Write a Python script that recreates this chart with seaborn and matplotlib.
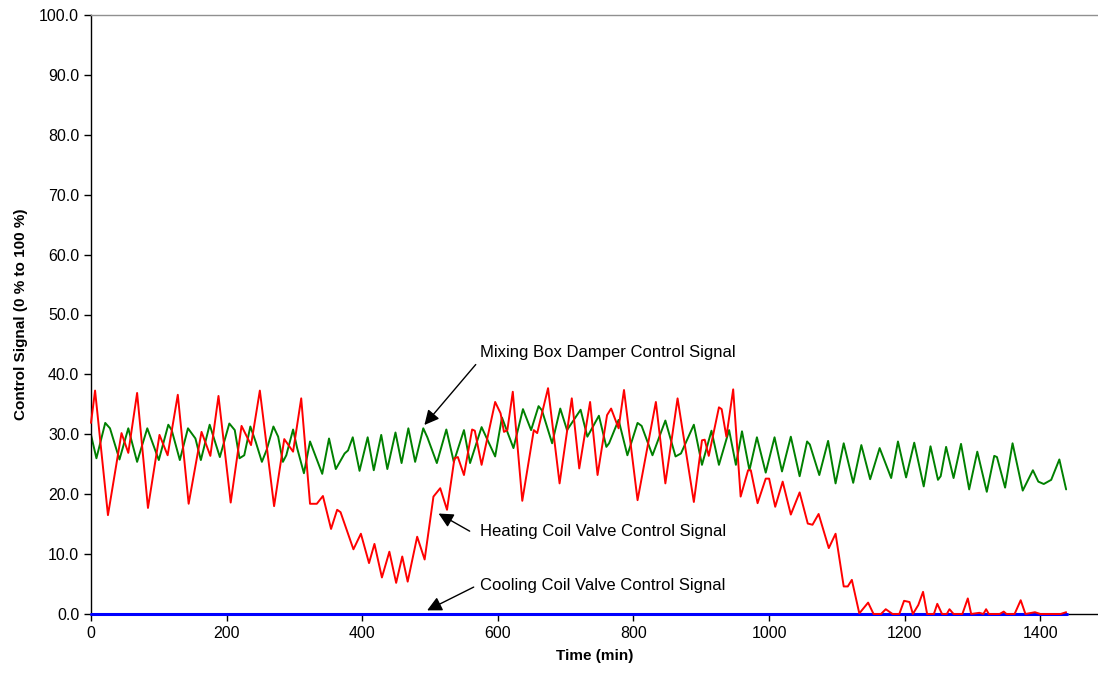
import numpy as np
import pandas as pd
import matplotlib
matplotlib.use("Agg")
import matplotlib.pyplot as plt
import seaborn as sns

sns.set_style("white")
plt.rcParams["font.family"] = ["Liberation Sans", "DejaVu Sans"]
plt.rcParams["text.color"] = "black"
plt.rcParams["axes.labelcolor"] = "black"

# heating coil valve control signal (red)
heat_t = [0, 6, 25, 45, 55, 68, 84, 101, 113, 128, 144, 163, 176, 188, 206, 222, 236,
          249, 270, 285, 298, 310, 323, 333, 342, 354, 363, 368, 387, 398, 410, 418, 429,
          440, 450, 459, 467, 481, 492, 505, 515, 525, 536, 541, 550, 562, 566, 576, 596,
          604, 609, 614, 622, 636, 653, 658, 674, 691, 709, 720, 736, 747, 761, 767, 778,
          786, 806, 833, 847, 865, 889, 901, 905, 911, 926, 930, 937, 947, 958, 969, 973,
          983, 995, 1000, 1009, 1020, 1032, 1045, 1057, 1064, 1073, 1088, 1098, 1110, 1116,
          1122, 1133, 1146, 1154, 1165, 1172, 1182, 1192, 1199, 1207, 1212, 1220, 1227,
          1233, 1243, 1248, 1255, 1262, 1266, 1272, 1285, 1293, 1298, 1310, 1316, 1320,
          1324, 1340, 1346, 1350, 1362, 1371, 1378, 1392, 1400, 1430, 1438]
heat_v = [31.9, 37.3, 16.5, 30.2, 26.9, 36.9, 17.7, 29.9, 26.5, 36.6, 18.4, 30.4, 26.4,
          36.4, 18.6, 31.4, 28.2, 37.3, 18.0, 29.2, 27.1, 36.0, 18.4, 18.4, 19.7, 14.2,
          17.4, 17.0, 10.8, 13.4, 8.5, 11.7, 6.1, 10.4, 5.2, 9.6, 5.4, 12.9, 9.1, 19.6,
          21.0, 17.4, 26.0, 26.2, 23.2, 30.8, 30.6, 24.9, 35.4, 33.5, 30.4, 30.7, 37.1,
          18.9, 30.7, 30.2, 37.7, 21.8, 36.0, 24.3, 35.4, 23.2, 33.2, 34.3, 31.0, 37.4,
          19.0, 35.4, 21.8, 36.0, 18.7, 29.0, 29.1, 26.4, 34.5, 34.2, 29.6, 37.5, 19.6,
          24.0, 24.0, 18.5, 22.6, 22.6, 17.9, 22.1, 16.6, 20.3, 15.1, 14.9, 16.7, 11.0,
          13.4, 4.6, 4.6, 5.7, 0.1, 1.9, 0.0, 0.0, 0.8, 0.0, 0.0, 2.2, 2.0, 0.0, 1.5, 3.7,
          0.0, 0.0, 1.7, 0.0, 0.0, 0.8, 0.0, 0.0, 2.6, 0.0, 0.2, 0.0, 0.8, 0.0, 0.0, 0.4,
          0.0, 0.0, 2.3, 0.0, 0.3, 0.0, 0.0, 0.3]

# mixing box damper control signal (green)
damp_t = [0, 8, 21, 28, 42, 55, 68, 83, 100, 114, 119, 131, 143, 154, 162, 175, 190, 204,
          212, 219, 226, 235, 243, 252, 259, 269, 276, 283, 288, 298, 304, 314, 323, 341,
          351, 361, 374, 379, 386, 396, 408, 417, 428, 437, 449, 458, 468, 478, 490, 496,
          510, 524, 535, 550, 559, 576, 596, 606, 623, 637, 649, 660, 665, 680, 692, 702,
          722, 732, 749, 760, 764, 778, 791, 806, 812, 828, 847, 862, 870, 889, 901, 915,
          926, 941, 951, 960, 971, 982, 995, 1008, 1019, 1032, 1045, 1056, 1060, 1074,
          1087, 1098, 1110, 1124, 1136, 1149, 1163, 1180, 1190, 1202, 1214, 1228, 1238,
          1249, 1253, 1261, 1272, 1283, 1295, 1307, 1321, 1332, 1336, 1348, 1359, 1374,
          1389, 1397, 1405, 1416, 1428, 1438]
damp_v = [29.9, 26.0, 31.9, 31.0, 25.8, 31.0, 25.4, 31.0, 25.7, 31.6, 30.7, 25.7, 31.0,
          29.3, 25.7, 31.6, 26.2, 31.8, 30.7, 26.0, 26.5, 31.3, 28.7, 25.4, 27.4, 31.3,
          29.6, 25.4, 26.5, 30.8, 27.7, 23.5, 28.8, 23.4, 29.3, 24.2, 26.8, 27.3, 29.5,
          23.9, 29.5, 24.0, 29.9, 24.2, 30.3, 25.2, 31.0, 25.4, 31.0, 29.5, 25.2, 30.8,
          25.4, 30.7, 25.2, 31.2, 26.3, 32.8, 27.7, 34.2, 30.7, 34.7, 34.0, 28.5, 34.3,
          30.7, 34.1, 29.6, 33.1, 27.9, 28.5, 32.4, 26.5, 31.9, 31.4, 26.5, 32.3, 26.3,
          26.8, 31.6, 24.9, 30.6, 24.9, 30.7, 24.9, 30.5, 24.0, 29.5, 23.6, 29.5, 23.8,
          29.6, 23.0, 28.8, 28.3, 23.2, 28.9, 21.8, 28.5, 21.9, 28.2, 22.5, 27.7, 22.7,
          28.8, 22.8, 28.6, 21.3, 28.0, 22.4, 23.0, 27.9, 22.7, 28.4, 20.8, 27.1, 20.4,
          26.4, 26.2, 21.1, 28.5, 20.6, 24.0, 22.1, 21.7, 22.4, 25.8, 20.8]

# cooling coil valve control signal (blue)
cool_t = [0, 1440]
cool_v = [0.0, 0.0]

heat = pd.DataFrame({"t": heat_t, "v": heat_v})
damp = pd.DataFrame({"t": damp_t, "v": damp_v})
cool = pd.DataFrame({"t": cool_t, "v": cool_v})

fig = plt.figure(figsize=(10.98, 6.79), dpi=100)
ax = fig.add_axes([91 / 1098, 1 - 614 / 679, 1 - 91 / 1098, (614 - 15) / 679])

sns.lineplot(data=damp, x="t", y="v", color="#008000", lw=1.4, ax=ax)
sns.lineplot(data=cool, x="t", y="v", color="#0000FF", lw=2.2, ax=ax,
             clip_on=False, zorder=5)
sns.lineplot(data=heat, x="t", y="v", color="#FF0000", lw=1.4, ax=ax,
             clip_on=False, zorder=6)

ax.set_xlim(0, 1485)
ax.set_ylim(0, 100)
ax.set_xticks(np.arange(0, 1401, 200))
ax.set_yticks(np.arange(0, 101, 10))
ax.set_yticklabels([f"{v:.1f}" for v in np.arange(0, 101, 10)])
ax.tick_params(axis="both", direction="out", length=5, width=1, labelsize=11.5,
               colors="black", left=True, bottom=True)
ax.set_xlabel("Time (min)", fontsize=11, fontweight="bold", labelpad=6)
ax.set_ylabel("Control Signal (0 % to 100 %)", fontsize=11, fontweight="bold", labelpad=8)

for side in ["left", "bottom"]:
    ax.spines[side].set_color("black")
    ax.spines[side].set_linewidth(1.0)
ax.spines["top"].set_color("#909090")
ax.spines["top"].set_linewidth(1.0)
ax.spines["right"].set_visible(False)

arrow = dict(arrowstyle="-|>", color="black", lw=1.0, mutation_scale=22)
ax.annotate("", xy=(489, 31.2), xytext=(570, 42.0), arrowprops=arrow)
ax.annotate("", xy=(509, 17.0), xytext=(562, 13.6), arrowprops=arrow)
ax.annotate("", xy=(492, 0.4), xytext=(568, 4.7), arrowprops=arrow)
for y, label in [(43.7, "Mixing Box Damper Control Signal"),
                 (13.7, "Heating Coil Valve Control Signal"),
                 (4.8, "Cooling Coil Valve Control Signal")]:
    ax.text(574, y, label, fontsize=12, color="black", va="center", ha="left")

fig.savefig("out.png", dpi=100)
